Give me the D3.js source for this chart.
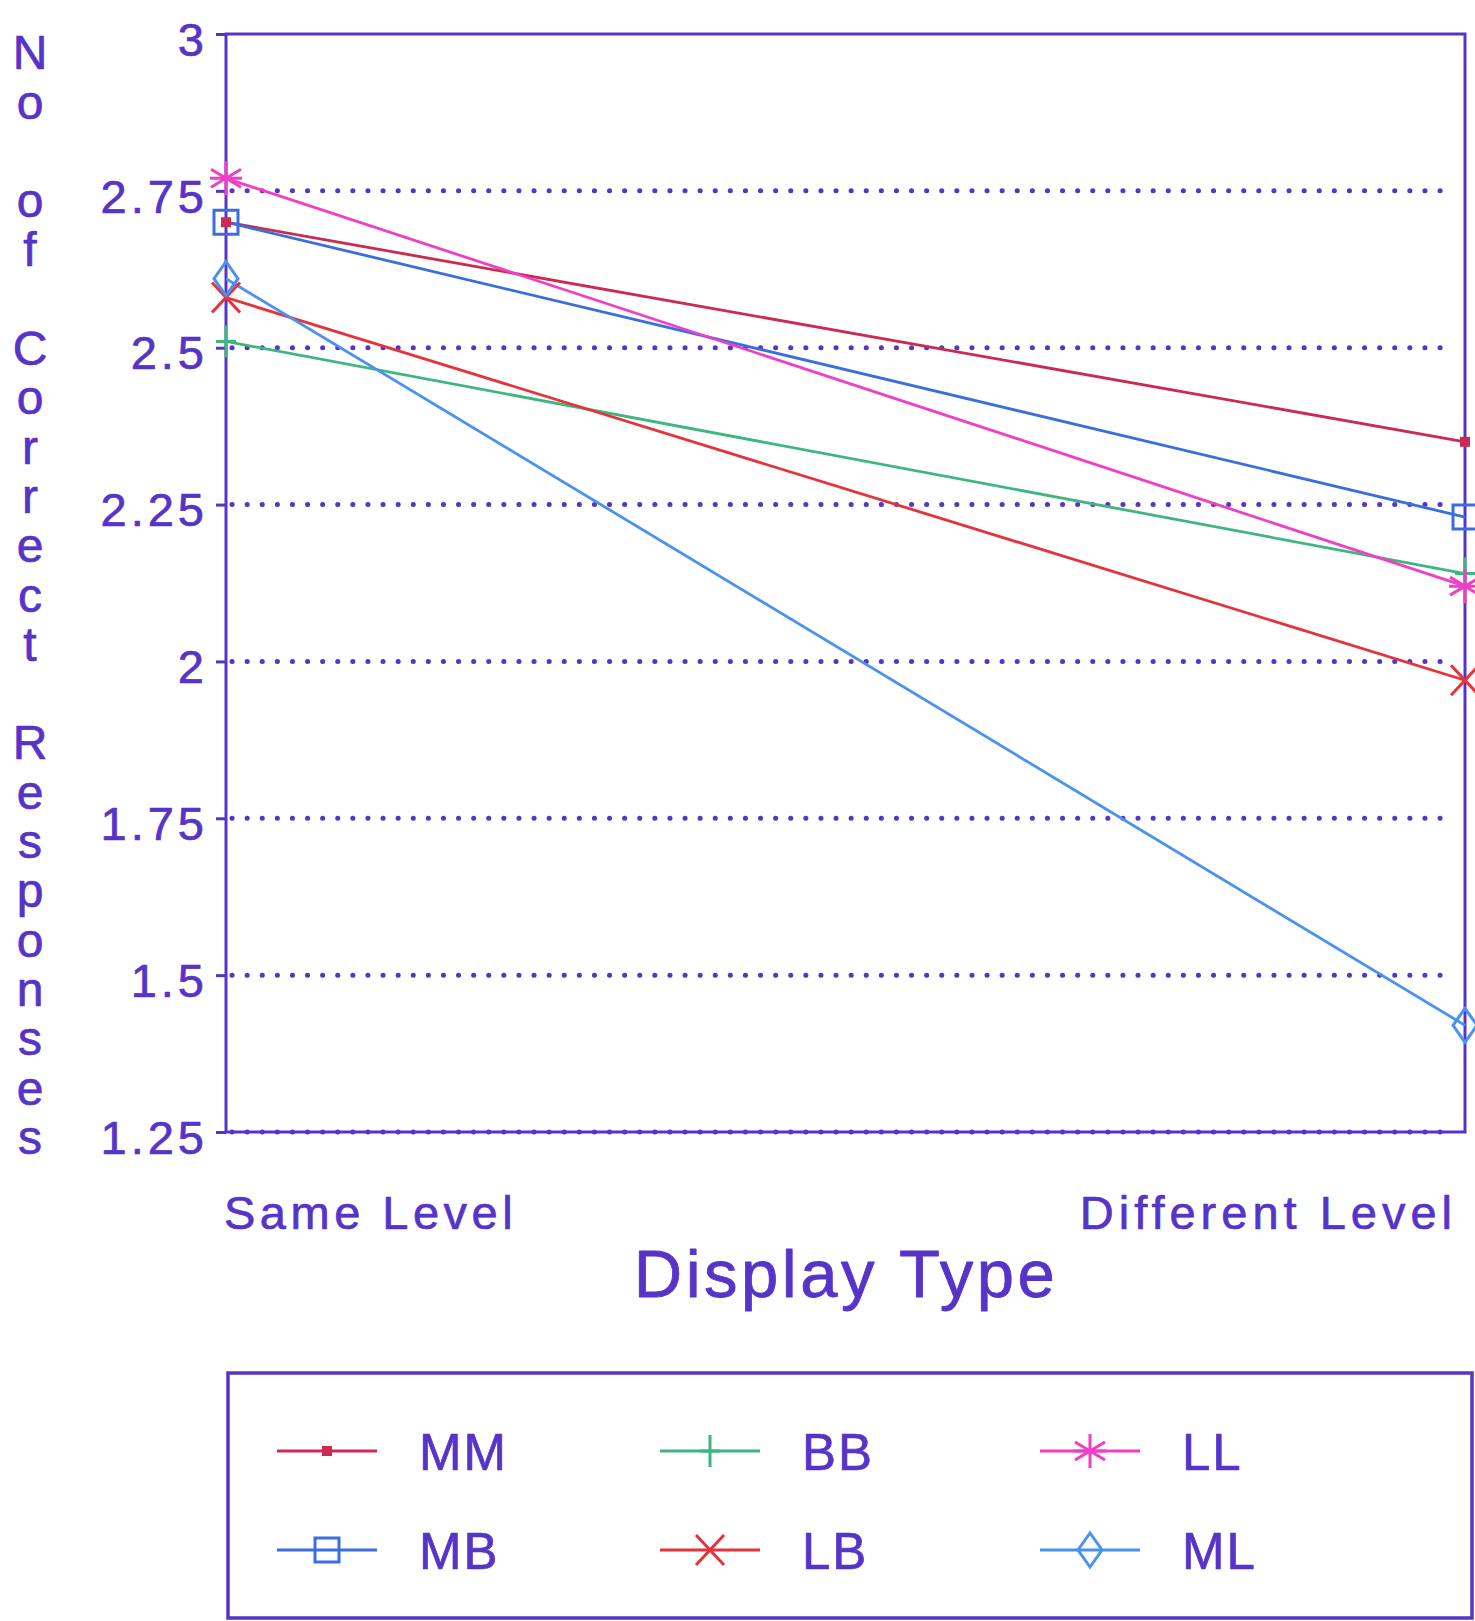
<!DOCTYPE html>
<html><head><meta charset="utf-8">
<script src="https://cdn.jsdelivr.net/npm/d3@7"></script>
<style>html,body{margin:0;padding:0;background:#fff;}svg{display:block;}</style>
</head><body>
<svg id="chart" width="1475" height="1621"></svg>
<script>
const categories = ["Same Level", "Different Level"];
const seriesNames = ["MM", "MB", "BB", "LB", "LL", "ML"];
const valuesMM = [2.70, 2.35];
const valuesMB = [2.70, 2.23];
const valuesBB = [2.51, 2.14];
const valuesLB = [2.58, 1.97];
const valuesLL = [2.77, 2.12];
const valuesML = [2.61, 1.42];
const yTickValues = [1.25, 1.5, 1.75, 2, 2.25, 2.5, 2.75, 3];
const yTickLabels = ["1.25", "1.5", "1.75", "2", "2.25", "2.5", "2.75", "3"];
const yTitle = "No of Correct Responses";
const xTitle = "Display Type";

const seriesValues = [valuesMM, valuesMB, valuesBB, valuesLB, valuesLL, valuesML];
const colors = {MM:"#cc2a50", MB:"#3a6ee0", BB:"#3fb57f", LB:"#e4333a", LL:"#ef3fc4", ML:"#4a92f0"};
const markerType = {MM:"dot", MB:"square", BB:"plus", LB:"cross", LL:"star", ML:"diamond"};
const ink = "#5634c8";
const FONT = "Liberation Sans, Arial, sans-serif";

const svg = d3.select("#chart");
const pLeft = 226, pRight = 1465, pTop = 34, pBottom = 1132;
const x = d3.scalePoint().domain(categories).range([pLeft, pRight]);
const y = d3.scaleLinear().domain([1.25, 3]).range([pBottom, pTop]);

function heavy(sel, w) {
  return sel.attr("stroke", ink).attr("stroke-width", w).attr("stroke-linejoin", "round").attr("paint-order", "stroke");
}

// gridlines (dotted)
svg.append("g").selectAll("line").data(yTickValues.filter(v => v < 3)).join("line")
  .attr("x1", pLeft + 6).attr("x2", 1450)
  .attr("y1", d => y(d)).attr("y2", d => y(d))
  .attr("stroke", ink).attr("stroke-width", 5).attr("stroke-linecap", "round")
  .attr("stroke-dasharray", "0.1,15");

// frame
svg.append("rect").attr("x", pLeft).attr("y", pTop).attr("width", pRight - pLeft).attr("height", pBottom - pTop)
  .attr("fill", "none").attr("stroke", ink).attr("stroke-width", 3);

// y axis ticks + labels
const yAxis = d3.axisLeft(y).tickValues(yTickValues).tickSize(10)
  .tickFormat((d, i) => yTickLabels[i]).tickPadding(8);
const gy = svg.append("g").attr("transform", `translate(${pLeft},0)`).call(yAxis);
gy.select(".domain").remove();
gy.selectAll("line").attr("stroke", ink).attr("stroke-width", 3);
heavy(gy.selectAll("text").attr("fill", ink).attr("font-family", FONT)
  .attr("font-size", 47).attr("letter-spacing", "4px").attr("dy", "0.45em"), 0.7);

// x category labels
heavy(svg.append("g").selectAll("text").data(categories).join("text")
  .attr("x", (d, i) => i === 0 ? x(d) - 2 : x(d) - 8)
  .attr("y", 1229)
  .attr("text-anchor", (d, i) => i === 0 ? "start" : "end")
  .attr("fill", ink).attr("font-family", FONT)
  .attr("font-size", 47).attr("letter-spacing", (d, i) => i === 0 ? "4.5px" : "5px")
  .text(d => d), 0.7);

// x title
heavy(svg.append("text").attr("x", 846).attr("y", 1297).attr("text-anchor", "middle")
  .attr("fill", ink).attr("font-family", FONT)
  .attr("font-size", 67).attr("letter-spacing", "3.5px").text(xTitle), 0.8);

// y title, stacked characters
heavy(svg.append("g").selectAll("text").data(yTitle.split("")).join("text")
  .attr("x", 30).attr("y", (d, i) => 52 + i * 49.3).attr("dy", "0.36em")
  .attr("text-anchor", "middle").attr("fill", ink)
  .attr("font-family", FONT).attr("font-size", 48)
  .text(d => d), 0.7);

function markerPath(type) {
  const p = d3.path();
  switch (type) {
    case "dot": break;
    case "square": p.rect(-12, -12, 24, 24); break;
    case "plus": p.moveTo(0, -16); p.lineTo(0, 16); p.moveTo(-10, 0); p.lineTo(10, 0); break;
    case "cross": p.moveTo(-14, -15); p.lineTo(14, 15); p.moveTo(-14, 15); p.lineTo(14, -15); break;
    case "star":
      p.moveTo(0, -17); p.lineTo(0, 17);
      p.moveTo(-15, -9); p.lineTo(15, 9);
      p.moveTo(-15, 9); p.lineTo(15, -9);
      p.moveTo(-16, 0); p.lineTo(16, 0); break;
    case "diamond": p.moveTo(0, -17); p.lineTo(12, 0); p.lineTo(0, 17); p.lineTo(-12, 0); p.closePath(); break;
  }
  return p.toString();
}

function drawMarker(g, name, cx, cy) {
  const t = markerType[name];
  if (t === "dot") {
    g.append("rect").attr("x", cx - 5).attr("y", cy - 5).attr("width", 10).attr("height", 10)
      .attr("fill", colors[name]);
  } else {
    g.append("path").attr("d", markerPath(t)).attr("transform", `translate(${cx},${cy})`)
      .attr("fill", "none").attr("stroke", colors[name]).attr("stroke-width", 3);
  }
}

// series lines
const line = d3.line().x((d, i) => x(categories[i])).y(d => y(d));
const gs = svg.append("g");
seriesNames.forEach((name, si) => {
  gs.append("path").datum(seriesValues[si]).attr("d", line).attr("fill", "none")
    .attr("stroke", colors[name]).attr("stroke-width", 2.8);
});
seriesNames.forEach((name, si) => {
  seriesValues[si].forEach((v, i) => drawMarker(gs, name, x(categories[i]), y(v)));
});

// legend
svg.append("rect").attr("x", 228).attr("y", 1373).attr("width", 1244).attr("height", 245)
  .attr("fill", "none").attr("stroke", ink).attr("stroke-width", 3.5);
const legCols = [277, 660, 1040];
const legRows = [1451, 1550];
const gl = svg.append("g");
seriesNames.forEach((name, i) => {
  const cx = legCols[Math.floor(i / 2)], cy = legRows[i % 2];
  gl.append("line").attr("x1", cx).attr("x2", cx + 100).attr("y1", cy).attr("y2", cy)
    .attr("stroke", colors[name]).attr("stroke-width", 3);
  drawMarker(gl, name, cx + 50, cy);
  heavy(gl.append("text").attr("x", cx + 142).attr("y", cy + 19)
    .attr("fill", ink).attr("font-family", FONT)
    .attr("font-size", 51).attr("letter-spacing", "2px").text(name), 0.7);
});
</script>
</body></html>
